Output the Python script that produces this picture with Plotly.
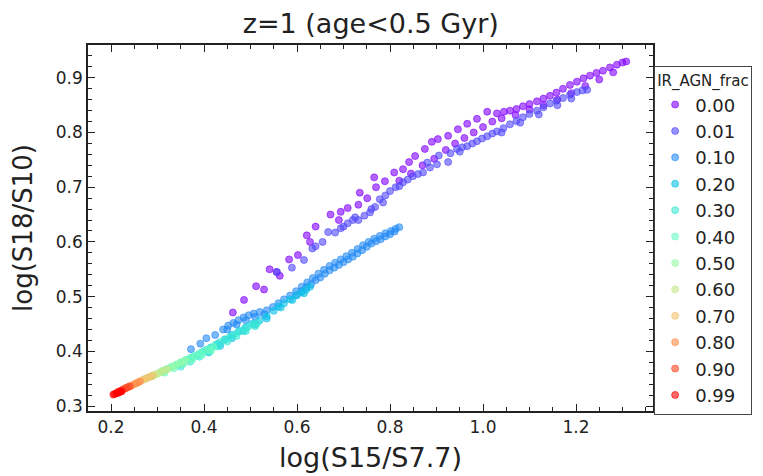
import plotly.graph_objects as go

# ---------------- data ----------------
agn_labels = ["0.00", "0.01", "0.10", "0.20", "0.30", "0.40",
              "0.50", "0.60", "0.70", "0.80", "0.90", "0.99"]

x_000 = [0.462, 0.486, 0.512, 0.529, 0.541, 0.563, 0.583, 0.602, 0.621, 0.628, 0.672, 0.694,
         0.709, 0.732, 0.751, 0.766, 0.770, 0.789, 0.809, 0.828, 0.841, 0.854, 0.875, 0.890,
         0.903, 0.925, 0.946, 0.966, 0.987, 1.009, 0.820, 0.845, 0.870, 0.895, 0.920, 0.940,
         0.960, 0.980, 1.000, 1.020, 1.030, 1.045, 1.058, 1.072, 1.086, 1.100, 1.116, 1.130,
         1.144, 1.158, 1.172, 1.187, 1.202, 1.216, 1.230, 1.244, 1.258, 1.273, 1.288, 1.300,
         1.308, 1.040, 1.070, 1.100, 1.130, 1.160, 1.190, 1.220, 1.250, 1.280, 0.556, 0.640,
         0.690, 0.735]
y_000 = [0.471, 0.494, 0.519, 0.513, 0.550, 0.538, 0.568, 0.576, 0.612, 0.600, 0.650, 0.655,
         0.662, 0.668, 0.680, 0.718, 0.700, 0.711, 0.727, 0.733, 0.746, 0.757, 0.770, 0.783,
         0.788, 0.794, 0.806, 0.816, 0.825, 0.838, 0.712, 0.725, 0.740, 0.752, 0.768, 0.780,
         0.790, 0.800, 0.810, 0.820, 0.835, 0.838, 0.840, 0.843, 0.848, 0.852, 0.857, 0.862,
         0.867, 0.873, 0.880, 0.887, 0.893, 0.899, 0.904, 0.909, 0.913, 0.919, 0.924, 0.928,
         0.930, 0.826, 0.832, 0.842, 0.850, 0.860, 0.872, 0.885, 0.897, 0.910, 0.545, 0.628,
         0.640, 0.690]

x_001 = [0.557, 0.589, 0.615, 0.633, 0.640, 0.655, 0.667, 0.682, 0.694, 0.709, 0.720, 0.732,
         0.745, 0.757, 0.768, 0.778, 0.790, 0.800, 0.812, 0.828, 0.838, 0.849, 0.860, 0.871,
         0.886, 0.901, 0.925, 0.944, 0.955, 0.966, 0.977, 0.987, 0.998, 1.009, 1.020, 1.030,
         1.044, 1.058, 1.072, 1.086, 1.100, 1.116, 1.130, 1.144, 1.158, 1.172, 1.187, 1.202,
         1.214, 1.224, 0.930, 0.950, 0.880, 0.905, 1.040, 1.080, 1.120, 1.160, 1.190, 0.700,
         0.725, 0.760, 0.785, 0.820]
y_001 = [0.545, 0.553, 0.567, 0.588, 0.592, 0.600, 0.618, 0.617, 0.625, 0.634, 0.640, 0.640,
         0.648, 0.654, 0.664, 0.678, 0.685, 0.693, 0.700, 0.709, 0.714, 0.720, 0.724, 0.727,
         0.736, 0.742, 0.746, 0.770, 0.773, 0.775, 0.780, 0.784, 0.789, 0.793, 0.798, 0.802,
         0.808, 0.815, 0.821, 0.828, 0.834, 0.840, 0.846, 0.853, 0.858, 0.863, 0.869, 0.874,
         0.877, 0.878, 0.762, 0.765, 0.745, 0.758, 0.800, 0.818, 0.833, 0.850, 0.862, 0.628,
         0.645, 0.660, 0.672, 0.702]

x_010 = [0.372, 0.392, 0.405, 0.424, 0.441, 0.452, 0.463, 0.474, 0.485, 0.496, 0.507, 0.520,
         0.535, 0.548, 0.560, 0.572, 0.585, 0.598, 0.610, 0.622, 0.634, 0.646, 0.658, 0.670,
         0.682, 0.694, 0.706, 0.718, 0.730, 0.742, 0.754, 0.766, 0.778, 0.790, 0.802, 0.812,
         0.820, 0.450, 0.470, 0.490, 0.510, 0.530, 0.600, 0.620, 0.640, 0.660, 0.680, 0.700,
         0.720, 0.740, 0.760, 0.780, 0.800, 0.610, 0.630, 0.650, 0.670, 0.690, 0.710, 0.730,
         0.750, 0.770, 0.790, 0.810]
y_010 = [0.404, 0.414, 0.424, 0.430, 0.440, 0.447, 0.452, 0.457, 0.462, 0.466, 0.469, 0.472,
         0.475, 0.481, 0.488, 0.495, 0.502, 0.510, 0.518, 0.526, 0.534, 0.542, 0.549, 0.556,
         0.562, 0.568, 0.574, 0.580, 0.587, 0.594, 0.600, 0.606, 0.611, 0.616, 0.620, 0.624,
         0.627, 0.440, 0.449, 0.457, 0.463, 0.468, 0.503, 0.517, 0.530, 0.542, 0.553, 0.563,
         0.573, 0.585, 0.597, 0.605, 0.614, 0.510, 0.522, 0.535, 0.548, 0.558, 0.568, 0.579,
         0.591, 0.601, 0.610, 0.619]

x_020 = [0.400, 0.415, 0.430, 0.445, 0.460, 0.475, 0.490, 0.505, 0.520, 0.535, 0.550, 0.560,
         0.572, 0.585, 0.598, 0.610, 0.620, 0.628, 0.410, 0.435, 0.460, 0.485, 0.510, 0.535,
         0.565, 0.590, 0.615]
y_020 = [0.400, 0.407, 0.414, 0.422, 0.430, 0.437, 0.444, 0.451, 0.457, 0.464, 0.474, 0.482,
         0.488, 0.495, 0.502, 0.508, 0.513, 0.518, 0.398, 0.410, 0.424, 0.437, 0.449, 0.460,
         0.480, 0.494, 0.506]

x_030 = [0.345, 0.355, 0.365, 0.375, 0.385, 0.395, 0.405, 0.415, 0.425, 0.435, 0.445, 0.455,
         0.465, 0.475, 0.485, 0.495, 0.505, 0.515, 0.350, 0.370, 0.390, 0.410, 0.430, 0.450,
         0.470, 0.490, 0.510]
y_030 = [0.376, 0.380, 0.385, 0.389, 0.393, 0.398, 0.403, 0.407, 0.412, 0.417, 0.421, 0.426,
         0.431, 0.436, 0.440, 0.445, 0.449, 0.452, 0.372, 0.381, 0.390, 0.399, 0.409, 0.418,
         0.428, 0.437, 0.446]

x_040 = [0.310, 0.320, 0.330, 0.340, 0.350, 0.360, 0.370, 0.380, 0.390, 0.400, 0.410, 0.420,
         0.315, 0.335, 0.355, 0.375, 0.395, 0.415]
y_040 = [0.364, 0.368, 0.372, 0.376, 0.380, 0.384, 0.388, 0.392, 0.396, 0.400, 0.404, 0.408,
         0.361, 0.369, 0.377, 0.385, 0.393, 0.401]

x_050 = [0.290, 0.300, 0.310, 0.320, 0.330, 0.340, 0.350, 0.360]
y_050 = [0.355, 0.359, 0.363, 0.367, 0.371, 0.375, 0.379, 0.383]

x_060 = [0.272, 0.280, 0.288, 0.296, 0.304, 0.312, 0.320]
y_060 = [0.349, 0.352, 0.355, 0.358, 0.361, 0.364, 0.367]

x_070 = [0.255, 0.262, 0.269, 0.276, 0.283, 0.290]
y_070 = [0.342, 0.345, 0.348, 0.351, 0.353, 0.356]

x_080 = [0.232, 0.238, 0.244, 0.250, 0.256, 0.262]
y_080 = [0.333, 0.335, 0.337, 0.340, 0.342, 0.345]

x_090 = [0.215, 0.220, 0.225, 0.230, 0.235, 0.240]
y_090 = [0.326, 0.328, 0.330, 0.332, 0.334, 0.336]

x_099 = [0.205, 0.208, 0.211, 0.214, 0.217, 0.220, 0.223]
y_099 = [0.321, 0.322, 0.323, 0.324, 0.325, 0.326, 0.327]

xs = [x_000, x_001, x_010, x_020, x_030, x_040, x_050, x_060, x_070, x_080, x_090, x_099]
ys = [y_000, y_001, y_010, y_020, y_030, y_040, y_050, y_060, y_070, y_080, y_090, y_099]

# matplotlib "rainbow" colormap sampled at 12 evenly spaced points
colors = [(128, 0, 255), (81, 72, 252), (35, 138, 245), (12, 193, 232),
          (58, 232, 214), (104, 252, 193), (151, 252, 167), (197, 232, 138),
          (243, 193, 106), (255, 138, 72), (255, 72, 36), (255, 0, 0)]

FONT = "DejaVu Sans"
fig = go.Figure()
for i, lab in enumerate(agn_labels):
    r, g, b = colors[i]
    fig.add_trace(go.Scatter(
        x=xs[i], y=ys[i], mode="markers", name=lab, legendgroup=lab,
        marker=dict(size=7, color=f"rgba({r},{g},{b},0.6)",
                    line=dict(color=f"rgba({r},{g},{b},0.6)", width=1)),
    ))

axis_common = dict(
    showline=True, linecolor="#222", linewidth=1.5, mirror="allticks",
    ticks="inside", ticklen=7, tickwidth=1.2, tickcolor="#222",
    showgrid=False, zeroline=False,
    tickfont=dict(family=FONT, size=17, color="#222"),
)
fig.update_xaxes(range=[0.1505, 1.3656], dtick=0.2, tick0=0.2, tickformat=".1f",
                 minor=dict(ticks="inside", dtick=0.05, tick0=0.2, ticklen=4, tickcolor="#222"),
                 title=dict(text="log(S15/S7.7)", font=dict(family=FONT, size=27, color="#222"), standoff=12),
                 **axis_common)
fig.update_yaxes(range=[0.2909, 0.960], dtick=0.1, tick0=0.3, tickformat=".1f",
                 minor=dict(ticks="inside", dtick=0.02, tick0=0.3, ticklen=4, tickcolor="#222"),
                 title=dict(text="log(S18/S10)", font=dict(family=FONT, size=26, color="#222"), standoff=16),
                 **axis_common)

fig.update_layout(
    width=763, height=476,
    margin=dict(l=88, r=110, t=45, b=65, autoexpand=False),
    paper_bgcolor="white", plot_bgcolor="white",
    title=dict(text="z=1 (age<0.5 Gyr)", x=0.486, xanchor="center", y=0.951, yanchor="middle",
               font=dict(family=FONT, size=27, color="#222")),
    legend=dict(x=1.002, xanchor="left", y=0.943, yanchor="top",
                title=dict(text="IR_AGN_frac", font=dict(family=FONT, size=15, color="#222")),
                font=dict(family=FONT, size=18, color="#222"),
                bgcolor="white", bordercolor="#444", borderwidth=1,
                tracegroupgap=0),
    showlegend=True,
)

fig.write_html("out.html")
